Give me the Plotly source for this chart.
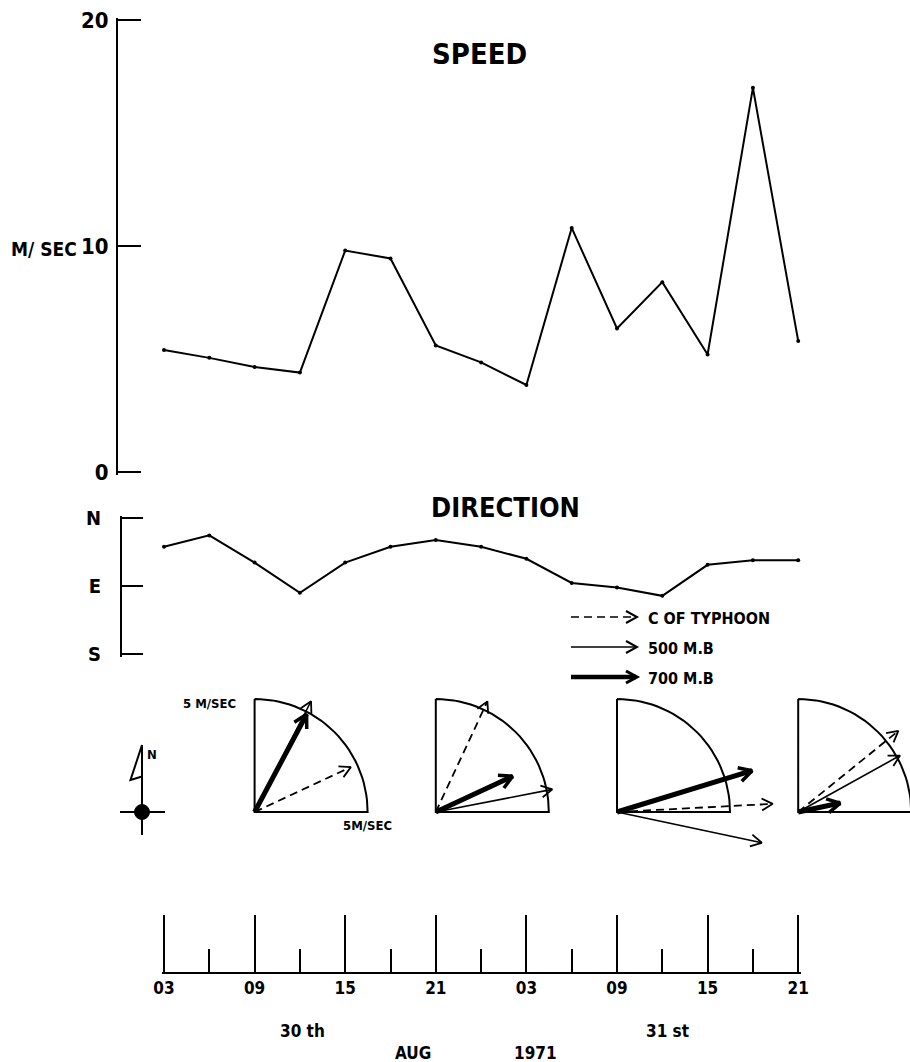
import math
import plotly.graph_objects as go

W, H = 910, 1062
FONT = "DejaVu Sans Condensed, Liberation Sans Narrow, Arial Narrow, sans-serif"

# Observation times: hours after 03Z, 30 Aug 1971 (3-hourly)
hours = [0, 3, 6, 9, 12, 15, 18, 21, 24, 27, 30, 33, 36, 39, 42]
# Typhoon movement speed (m/s)
speed = [5.4, 5.05, 4.65, 4.4, 9.8, 9.45, 5.6, 4.85, 3.85, 10.8, 6.35, 8.4, 5.2, 17.0, 5.8]
# Typhoon movement direction (degrees clockwise from N)
direction = [38, 23, 59, 99, 59, 38, 29, 38, 54, 86, 92, 103, 62, 56, 56]

speed_ticks = [0, 10, 20]
dir_ticks = [0, 90, 180]
dir_labels = ["N", "E", "S"]

ruler_major = [0, 6, 12, 18, 24, 30, 36, 42]
ruler_minor = [3, 9, 15, 21, 27, 33, 39]
ruler_labels = ["03", "09", "15", "21", "03", "09", "15", "21"]

# Vector diagrams every 12 h (09Z/21Z): speed m/s, direction deg from N
vec_hours = [6, 18, 30, 42]
typhoon_spd = [4.7, 5.4, 6.9, 5.7]
typhoon_dir = [65, 25, 87, 51]
mb500_spd = [5.5, 5.25, 6.55, 5.15]
mb500_dir = [27, 79, 102, 61]
mb700_spd = [4.9, 3.75, 6.25, 1.9]
mb700_dir = [28, 65, 73, 78]
scale_radius = 5  # m/s, quarter-circle reference

# pixel geometry of the page layout
PX0, PXH = 164.0, 15.1        # x pixel of hour 0, pixels per hour
PXMS = 22.6                   # pixels per m/s in vector diagrams
VEC_Y0 = 812.0                # pixel row of vector origins
SPD_Y0, SPD_PPU = 472.0, 22.6     # speed axis: pixel row of 0, pixels per m/s
DIR_Y0, DIR_PPD = 518.0, 136 / 180  # direction axis: pixel row of N, pixels per degree
RULER_Y = 972.7
EDGE = 2.5                    # px margin so end ticks are kept


def fx(p):
    return p / W


def fy(p):
    return 1 - p / H


DASH = "8px,5px"

fig = go.Figure()

# speed series
fig.add_trace(go.Scatter(
    x=hours, y=speed, mode="lines+markers", xaxis="x", yaxis="y",
    line=dict(color="black", width=2), marker=dict(color="black", size=4),
    showlegend=False, hoverinfo="skip"))

# direction series
fig.add_trace(go.Scatter(
    x=hours, y=direction, mode="lines+markers", xaxis="x", yaxis="y2",
    line=dict(color="black", width=2), marker=dict(color="black", size=4),
    showlegend=False, hoverinfo="skip"))

# time ruler subplot (axis only)
fig.add_trace(go.Scatter(x=[], y=[], xaxis="x2", yaxis="y3", showlegend=False))


def arrow(x0, y0, spd, deg, head):
    th = math.radians(deg)
    tx, ty = x0 + spd * math.sin(th), y0 + spd * math.cos(th)
    shaft = ([x0, tx], [y0, ty])
    hx, hy = [], []
    for d in (-0.5, 0.5):
        a = th + math.pi + d
        hx.append(tx + head * math.sin(a))
        hy.append(ty + head * math.cos(a))
    headxy = ([hx[0], tx, hx[1]], [hy[0], ty, hy[1]])
    return shaft, headxy


def add_line(xs, ys, width, dash="solid"):
    fig.add_trace(go.Scatter(
        x=xs, y=ys, mode="lines", xaxis="x3", yaxis="y4",
        line=dict(color="black", width=width, dash=dash),
        showlegend=False, hoverinfo="skip"))


for i, h in enumerate(vec_hours):
    u0 = h * PXH / PXMS
    # quarter-circle frame
    xs = [u0, u0, u0 + scale_radius]
    ys = [scale_radius, 0, 0]
    for k in range(0, 91, 3):
        t = math.radians(90 - k)
        xs.append(u0 + scale_radius * math.sin(t))
        ys.append(scale_radius * math.cos(t))
    add_line(xs, ys, 2)

    s, hd = arrow(u0, 0, mb500_spd[i], mb500_dir[i], 0.55)
    add_line(*s, 1.6)
    add_line(*hd, 1.8)
    s, hd = arrow(u0, 0, typhoon_spd[i], typhoon_dir[i], 0.55)
    add_line(*s, 1.8, DASH)
    add_line(*hd, 1.8)
    s, hd = arrow(u0, 0, mb700_spd[i], mb700_dir[i], 0.65)
    add_line(*s, 5)
    add_line(*hd, 3.5)

shapes = []

# legend
for yy, w, dash in [(617, 1.6, DASH), (647, 1.6, "solid"), (677, 4.5, "solid")]:
    shapes.append(dict(type="line", xref="paper", yref="paper",
                       x0=fx(571), x1=fx(636), y0=fy(yy), y1=fy(yy),
                       line=dict(color="black", width=w, dash=dash)))
    shapes.append(dict(type="path", xref="paper", yref="paper",
                       path=f"M {fx(626)} {fy(yy-6)} L {fx(637)} {fy(yy)} L {fx(626)} {fy(yy+6)}",
                       line=dict(color="black", width=2 if w < 3 else 3)))

# north symbol with station circle
shapes += [
    dict(type="line", xref="paper", yref="paper", x0=fx(142), x1=fx(142),
         y0=fy(745), y1=fy(835), line=dict(color="black", width=2)),
    dict(type="line", xref="paper", yref="paper", x0=fx(120), x1=fx(165),
         y0=fy(812), y1=fy(812), line=dict(color="black", width=2)),
    dict(type="path", xref="paper", yref="paper",
         path=f"M {fx(142)} {fy(745)} L {fx(130.5)} {fy(780)} L {fx(142)} {fy(776.5)}",
         line=dict(color="black", width=2)),
    dict(type="circle", xref="paper", yref="paper", x0=fx(134.5), x1=fx(149.5),
         y0=fy(804.5), y1=fy(819.5), fillcolor="black", line=dict(color="black", width=1)),
]

annotations = []


def ann(text, x, y, size, xanchor="center"):
    annotations.append(dict(text=text, x=fx(x), y=fy(y), xref="paper", yref="paper",
                            showarrow=False, xanchor=xanchor, yanchor="middle",
                            font=dict(family=FONT, size=size, color="black", weight="bold")))


ann("SPEED", 479, 54, 29)
ann("DIRECTION", 505, 507, 27)
ann("M/ SEC", 79, 249, 19, "right")
ann("C OF TYPHOON", 646, 618, 16, "left")
ann("500 M.B", 646, 648, 16, "left")
ann("700 M.B", 646, 678, 16, "left")
ann("5 M/SEC", 209, 703, 13)
ann("5M/SEC", 367, 825, 13)
ann("N", 152, 754, 13)
ann("30 th", 302, 1031, 17)
ann("31 st", 667, 1031, 17)
ann("AUG", 413, 1053, 17)
ann("1971", 535, 1053, 17)

axis_font = dict(family=FONT, color="black", weight="bold")

# axis ranges padded by EDGE pixels so the end ticks are drawn
spd_pad = EDGE / SPD_PPU
dir_pad = EDGE / DIR_PPD
hr_pad = EDGE / PXH

fig.update_layout(
    template="none",
    width=W, height=H, margin=dict(l=0, r=0, t=0, b=0, pad=0, autoexpand=False),
    paper_bgcolor="white", plot_bgcolor="rgba(0,0,0,0)",
    font=dict(family=FONT, color="black", weight="bold"),
    showlegend=False,
    xaxis=dict(domain=[0, 1], range=[-PX0 / PXH, (W - PX0) / PXH], visible=False,
               fixedrange=True, automargin=False),
    yaxis=dict(domain=[fy(SPD_Y0 + EDGE), fy(SPD_Y0 - 20 * SPD_PPU - EDGE)],
               range=[-spd_pad, 20 + spd_pad], anchor="free", position=fx(117),
               showline=True, linecolor="black", linewidth=2, ticks="inside",
               ticklen=23, tickwidth=2, tickcolor="black", tickmode="array",
               tickvals=speed_ticks, ticktext=[str(v) for v in speed_ticks],
               tickfont=dict(axis_font, size=22), ticklabelstandoff=3,
               showgrid=False, zeroline=False, automargin=False),
    yaxis2=dict(domain=[fy(DIR_Y0 + 180 * DIR_PPD + EDGE), fy(DIR_Y0 - EDGE)],
                range=[180 + dir_pad, -dir_pad], anchor="free", position=fx(121),
                showline=True, linecolor="black", linewidth=2, ticks="inside",
                ticklen=21, tickwidth=2, tickcolor="black", tickmode="array",
                tickvals=dir_ticks, ticktext=dir_labels,
                tickfont=dict(axis_font, size=20), ticklabelstandoff=15,
                showgrid=False, zeroline=False, automargin=False),
    xaxis2=dict(domain=[fx(PX0 - EDGE), fx(PX0 + 42 * PXH + EDGE)],
                range=[-hr_pad, 42 + hr_pad], anchor="free",
                position=fy(RULER_Y), showline=True, linecolor="black", linewidth=2,
                ticks="inside", ticklen=57, tickwidth=2, tickcolor="black",
                tickmode="array", tickvals=ruler_major, ticktext=ruler_labels,
                tickfont=dict(axis_font, size=17),
                minor=dict(ticks="inside", ticklen=23, tickwidth=2, tickcolor="black",
                           tickvals=ruler_minor, showgrid=False),
                showgrid=False, zeroline=False, automargin=False),
    yaxis3=dict(domain=[fy(RULER_Y), fy(900)], visible=False, automargin=False),
    xaxis3=dict(domain=[0, 1], range=[-PX0 / PXMS, (W - PX0) / PXMS], visible=False,
                anchor="y4", automargin=False),
    yaxis4=dict(domain=[0, 1], range=[(VEC_Y0 - H) / PXMS, VEC_Y0 / PXMS], visible=False,
                anchor="x3", automargin=False),
    shapes=shapes, annotations=annotations,
)

fig.write_html("out.html")
